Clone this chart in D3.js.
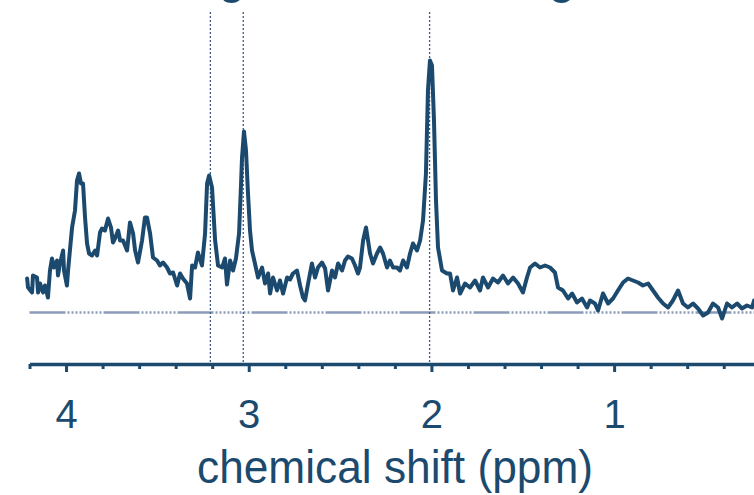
<!DOCTYPE html>
<html>
<head>
<meta charset="utf-8">
<script src="https://cdn.jsdelivr.net/npm/d3@7"></script>
<style>
  html, body { margin: 0; padding: 0; background: #fff; }
  svg { display: block; }
  text { font-family: "Liberation Sans", Arial, sans-serif; fill: #1b4a6e; }
</style>
</head>
<body>
<div id="chart"></div>
<script>
// chemical shift (ppm) of each sampled point, high to low
const ppm = [
  4.213, 4.208, 4.186, 4.181, 4.159, 4.153, 4.142, 4.126, 4.115, 4.099,
  4.088, 4.077, 4.066, 4.049, 4.044, 4.033, 4.016, 4.011, 3.995, 3.989,
  3.967, 3.951, 3.940, 3.929, 3.918, 3.907, 3.896, 3.885, 3.874, 3.858,
  3.841, 3.830, 3.814, 3.803, 3.787, 3.770, 3.754, 3.743, 3.732, 3.715,
  3.704, 3.688, 3.666, 3.650, 3.633, 3.622, 3.606, 3.584, 3.568, 3.557,
  3.540, 3.524, 3.502, 3.486, 3.469, 3.447, 3.431, 3.414, 3.392, 3.376,
  3.360, 3.338, 3.321, 3.310, 3.294, 3.278, 3.256, 3.239, 3.228, 3.217,
  3.201, 3.184, 3.168, 3.146, 3.130, 3.119, 3.102, 3.086, 3.070, 3.053,
  3.042, 3.037, 3.026, 3.015, 3.004, 2.993, 2.982, 2.966, 2.949, 2.927,
  2.911, 2.894, 2.883, 2.867, 2.845, 2.829, 2.812, 2.790, 2.774, 2.758,
  2.736, 2.719, 2.703, 2.692, 2.675, 2.654, 2.637, 2.621, 2.599, 2.582,
  2.566, 2.544, 2.528, 2.511, 2.489, 2.473, 2.457, 2.435, 2.418, 2.402,
  2.391, 2.374, 2.358, 2.347, 2.336, 2.320, 2.298, 2.281, 2.265, 2.243,
  2.227, 2.210, 2.188, 2.172, 2.155, 2.134, 2.117, 2.101, 2.079, 2.062,
  2.046, 2.030, 2.019, 2.008, 1.997, 1.986, 1.975, 1.964, 1.942, 1.915,
  1.898, 1.882, 1.860, 1.843, 1.816, 1.789, 1.761, 1.734, 1.718, 1.690,
  1.663, 1.636, 1.608, 1.581, 1.553, 1.526, 1.499, 1.477, 1.460, 1.433,
  1.406, 1.378, 1.351, 1.324, 1.307, 1.280, 1.252, 1.230, 1.203, 1.176,
  1.148, 1.132, 1.105, 1.088, 1.061, 1.033, 1.006, 0.979, 0.951, 0.924,
  0.897, 0.869, 0.842, 0.814, 0.787, 0.760, 0.732, 0.705, 0.678, 0.650,
  0.623, 0.596, 0.568, 0.541, 0.513, 0.486, 0.459, 0.431, 0.409, 0.382,
  0.355, 0.327, 0.300, 0.273, 0.245, 0.234
];

// signal intensity (arbitrary units, NAA peak ~100)
const signal = [
  13.6, 10.0, 8.0, 14.8, 14.0, 8.0, 11.6, 8.0, 10.8, 6.0,
  16.8, 21.6, 18.0, 20.8, 14.8, 19.6, 24.8, 16.8, 10.8, 16.8,
  34.0, 40.8, 52.8, 55.6, 51.6, 51.6, 38.0, 27.6, 23.6, 22.8,
  24.8, 22.8, 32.0, 33.6, 32.8, 37.6, 34.0, 28.0, 29.6, 32.8,
  28.8, 28.8, 24.8, 36.0, 31.6, 24.8, 20.0, 28.8, 38.0, 38.0,
  31.6, 22.0, 20.8, 18.8, 20.0, 18.0, 15.6, 16.0, 10.8, 15.6,
  13.6, 11.6, 5.6, 18.8, 18.0, 24.0, 18.8, 31.6, 51.6, 54.8,
  50.0, 28.8, 18.8, 18.0, 21.6, 11.2, 20.8, 16.8, 21.6, 31.6,
  51.6, 61.6, 72.4, 64.8, 47.6, 32.8, 24.8, 19.6, 14.0, 18.0,
  11.6, 15.6, 7.6, 14.0, 8.8, 12.8, 7.6, 14.0, 13.2, 15.6,
  16.8, 10.8, 6.0, 4.8, 11.6, 19.6, 14.0, 18.0, 20.0, 17.6,
  8.8, 16.8, 14.0, 19.6, 16.8, 20.8, 22.4, 21.6, 18.8, 15.6,
  18.0, 28.8, 34.0, 28.8, 23.6, 19.6, 23.6, 26.0, 23.6, 18.0,
  20.8, 18.0, 18.0, 16.8, 20.8, 18.0, 23.6, 27.6, 24.8, 28.8,
  36.8, 55.6, 88.8, 100.8, 98.8, 76.8, 44.8, 26.0, 16.8, 15.6,
  15.6, 8.8, 14.0, 7.6, 11.6, 10.0, 12.8, 8.8, 14.0, 10.0,
  13.6, 12.0, 14.8, 11.6, 14.0, 11.6, 8.0, 14.0, 18.0, 19.6,
  18.0, 18.8, 18.0, 16.0, 10.0, 8.8, 5.6, 7.6, 4.0, 5.6,
  2.0, 4.8, 3.6, 0.8, 7.6, 3.6, 5.6, 8.8, 12.0, 13.6,
  12.8, 12.0, 10.8, 11.6, 8.8, 6.0, 3.6, 2.0, 4.8, 8.8,
  3.6, 2.0, 3.6, 1.6, -1.2, 0.0, 3.6, 2.0, -2.4, 3.6,
  2.0, 3.6, 1.6, 2.8, 2.0, 4.8
];

const majorTicks = [4, 3, 2, 1];
const minorTicks = [4.2, 3.8, 3.6, 3.4, 3.2, 2.8, 2.6, 2.4, 2.2, 1.8, 1.6, 1.4, 1.2, 0.8, 0.6, 0.4];
// metabolite reference positions (Cho, Cr, NAA)
const markers = [3.21, 3.03, 2.01];

const width = 754;
const height = 495;
const ink = '#1b4a6e';

const svg = d3.select('#chart').append('svg')
  .attr('width', width)
  .attr('height', height);

const x = d3.scaleLinear()
  .domain([4.2, 0.23])
  .range([29.5, 754.8]);

const y = d3.scaleLinear()
  .domain([0, 100])
  .range([312.5, 62.5]);

const axisY = 364;

// title cut off by the top edge, only descenders show
svg.selectAll('.cut')
  .data([232, 562])
  .enter()
  .append('text')
  .attr('class', 'cut')
  .attr('x', (d) => d)
  .attr('y', -7)
  .attr('text-anchor', 'middle')
  .style('font-size', '49px')
  .text('g');

// zero line
svg.append('line')
  .attr('x1', x(4.2))
  .attr('x2', width)
  .attr('y1', y(0))
  .attr('y2', y(0))
  .attr('stroke', '#8c9cb8')
  .attr('stroke-width', 2.5)
  .attr('stroke-dasharray', '36,2,2,2,2,2,2,2,2,2,2,2,2,2,2,2,2,2,2,2');

// dotted reference lines
svg.selectAll('.marker')
  .data(markers)
  .enter()
  .append('line')
  .attr('class', 'marker')
  .attr('x1', (d) => x(d))
  .attr('x2', (d) => x(d))
  .attr('y1', 12)
  .attr('y2', axisY)
  .attr('stroke', '#3d5a80')
  .attr('stroke-width', 1.3)
  .attr('stroke-dasharray', '2,2');

// spectrum
const line = d3.line()
  .x((d, i) => x(ppm[i]))
  .y((d) => y(d));

svg.append('path')
  .datum(signal)
  .attr('d', line)
  .attr('fill', 'none')
  .attr('stroke', ink)
  .attr('stroke-width', 4)
  .attr('stroke-linejoin', 'round')
  .attr('stroke-linecap', 'round');

// minor ticks
const minor = svg.append('g')
  .attr('transform', `translate(0,${axisY})`)
  .call(d3.axisBottom(x).tickValues(minorTicks).tickSize(5).tickSizeOuter(0).tickFormat(''));
minor.select('.domain').remove();
minor.selectAll('line').attr('stroke', ink).attr('stroke-width', 3);

// major ticks + labels
const major = svg.append('g')
  .attr('transform', `translate(0,${axisY})`)
  .call(d3.axisBottom(x).tickValues(majorTicks).tickSize(8).tickSizeOuter(0).tickPadding(28).tickFormat(d3.format('d')));
major.select('.domain').attr('stroke', ink).attr('stroke-width', 3.5);
major.selectAll('line').attr('stroke', ink).attr('stroke-width', 3);
major.selectAll('text')
  .style('font-size', '40px')
  .style('font-family', '"Liberation Sans", Arial, sans-serif')
  .attr('fill', ink);

// axis title
svg.append('text')
  .attr('x', 197)
  .attr('y', 483)
  .attr('textLength', 396)
  .attr('lengthAdjust', 'spacingAndGlyphs')
  .style('font-size', '46px')
  .text('chemical shift (ppm)');
</script>
</body>
</html>
